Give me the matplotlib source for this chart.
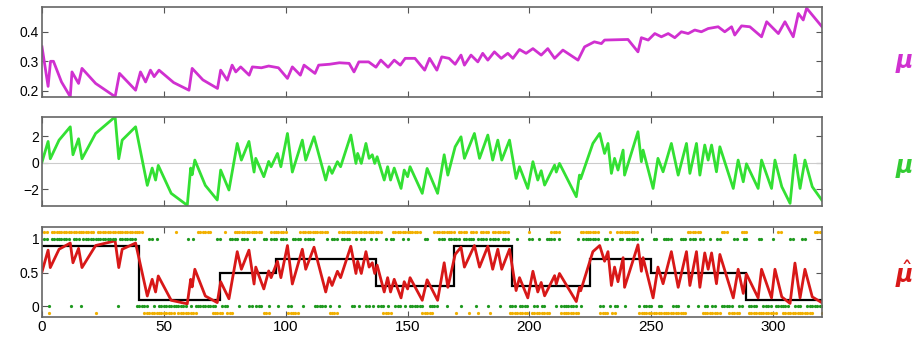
import numpy as np
import matplotlib
matplotlib.use('Agg')
import matplotlib.pyplot as plt

plt.rcParams['font.family'] = ['Liberation Sans', 'DejaVu Sans']

n_trials = 320

# third-level belief (vertices of the trajectory)
mu3_t = [0, 2.5, 3.5, 4.7, 8, 11.6, 12.3, 15, 16.4, 22, 30, 31.8, 38.4, 40.4, 42.5, 44.5,
         46, 48, 54, 60.3, 61.6, 66, 72, 73.3, 76, 78, 79.5, 81.5, 85, 86.3, 90, 93, 97,
         100.7, 102.7, 106, 107.5, 112, 113.5, 118, 122, 126, 128, 130, 134, 137, 139, 142,
         144.5, 147, 149, 153, 157, 159, 162, 164, 167, 169.5, 171.9, 173.3, 176, 178.8,
         180.8, 182.9, 185.6, 188.4, 191.1, 193.2, 195.9, 198.6, 201.4, 204.8, 207.5, 210.3,
         213.7, 219.9, 222.6, 226.6, 229.5, 230.8, 240.4, 244.5, 245.9, 248.7, 251.4, 254.1,
         256.9, 259.6, 262.3, 265.1, 267.8, 270.5, 273.3, 277.4, 280.1, 282.9, 284.2, 287,
         290.4, 295.2, 297.3, 302.1, 304.8, 308.2, 310.3, 312.3, 313.7, 320]
mu3_v = [0.349, 0.215, 0.30, 0.30, 0.23, 0.18, 0.264, 0.225, 0.276, 0.225, 0.18, 0.259,
         0.202, 0.264, 0.23, 0.27, 0.248, 0.27, 0.228, 0.202, 0.276, 0.237, 0.208, 0.27,
         0.236, 0.287, 0.264, 0.281, 0.253, 0.281, 0.278, 0.284, 0.278, 0.242, 0.281, 0.253,
         0.287, 0.259, 0.287, 0.29, 0.295, 0.293, 0.264, 0.298, 0.298, 0.28, 0.304, 0.28,
         0.304, 0.287, 0.31, 0.31, 0.27, 0.31, 0.27, 0.315, 0.31, 0.29, 0.321, 0.287, 0.321,
         0.298, 0.327, 0.304, 0.332, 0.31, 0.327, 0.31, 0.34, 0.327, 0.343, 0.321, 0.343,
         0.31, 0.338, 0.304, 0.349, 0.366, 0.36, 0.372, 0.374, 0.332, 0.38, 0.372, 0.394,
         0.383, 0.394, 0.38, 0.40, 0.394, 0.406, 0.40, 0.411, 0.417, 0.40, 0.417, 0.389,
         0.42, 0.417, 0.383, 0.434, 0.394, 0.434, 0.383, 0.462, 0.44, 0.48, 0.417]

# second-level belief (vertices of the trajectory)
mu2_t = [0, 2.5, 3.4, 7, 11.6, 12.7, 15, 16.4, 22, 30, 31.5, 32.9, 38.4, 43.2, 45.2, 46.6,
         47.7, 53, 59.6, 61, 61.6, 62.7, 67, 71.9, 73.3, 76.7, 80.1, 81.8, 84.9, 87, 87.7,
         91, 93, 94, 96.6, 98, 100.7, 102.7, 106.8, 108.2, 111.6, 116.4, 117.8, 119, 121.2,
         122.5, 126.7, 128.8, 129.5, 131, 132.9, 134.2, 135.5, 136.5, 137.5, 140.4, 141.8,
         143, 144.5, 147.3, 148.6, 150, 151, 156, 158, 162.3, 165, 166.5, 169.5, 171.9,
         173.3, 177.4, 179.5, 182.9, 184.9, 187, 188.6, 191.8, 194.5, 195.9, 199.3, 201.4,
         203.4, 204.8, 206.2, 210.3, 211, 212.3, 219.2, 220.5, 221, 226, 228.8, 230.8,
         232.2, 233.6, 234.9, 236.3, 238.4, 239, 244.5, 245.9, 246.6, 250.7, 252.7, 254.8,
         258.2, 261, 264.4, 265.8, 268.5, 269.9, 271.9, 273.3, 274.7, 276.7, 278.1, 283.6,
         285.6, 287.7, 289, 293.8, 295.2, 299.3, 300.7, 303.5, 306.9, 308.9, 311, 313, 316,
         319.9]
mu2_v = [0.05, 1.6, 0.3, 1.7, 2.7, 0.6, 1.8, 0.3, 2.2, 3.45, 0.3, 1.7, 2.7, -1.7, -0.4,
         -1.3, -0.2, -2.3, -3.2, -0.4, -0.9, 0.2, -1.7, -2.8, -0.55, -2.05, 1.45, 0.2, 1.6,
         -0.7, 0.33, -1.05, 0.1, -0.3, 0.7, -0.3, 2.2, -0.7, 1.7, 0.2, 1.95, -1.3, -0.3,
         -0.8, 0.08, -0.3, 2.08, -0.05, 0.7, -0.05, 1.45, 0.33, 0.6, -0.05, 0.45, -1.3,
         -0.3, -1.3, -0.4, -1.93, -0.55, -1.05, -0.3, -2.3, -0.43, -2.3, 0.6, -0.93, 1.2,
         1.95, 0.33, 2.2, 0.33, 2.08, 0.2, 1.7, 0.2, 1.7, -1.18, -0.3, -1.93, 0.08, -1.3,
         -0.6, -1.68, -0.18, -0.7, -0.05, -2.55, -0.93, -1.2, 1.45, 2.2, 0.7, 1.45, -0.8,
         0.33, -0.55, 0.95, -0.93, 2.33, 0.08, 0.95, -1.93, 0.33, -0.68, 1.45, -0.93, 1.45,
         -0.8, 1.45, -0.93, 1.33, 0.2, 1.33, -0.68, 1.2, -1.93, 0.2, -1.43, -0.08, -1.93,
         0.2, -1.93, 0.2, -1.8, -3.05, 0.58, -1.93, 0.2, -1.8, -2.8]

# true outcome probability per block
block_edges = [0, 40, 73, 96, 137, 169, 193, 225, 250, 289, 320]
block_prob = [0.9, 0.1, 0.5, 0.7, 0.3, 0.9, 0.3, 0.7, 0.5, 0.1]

# trials (inclusive ranges) where input u = 1
u_ones = [(1, 2), (4, 11), (13, 15), (17, 30), (32, 38), (44, 45), (47, 47), (60, 60),
          (62, 62), (72, 73), (77, 80), (82, 84), (87, 87), (91, 92), (94, 96), (98, 100),
          (103, 106), (108, 111), (117, 117), (119, 121), (123, 126), (129, 129), (131, 132),
          (135, 135), (137, 137), (141, 141), (143, 144), (148, 148), (150, 150), (157, 158),
          (163, 165), (167, 171), (173, 177), (179, 182), (184, 187), (189, 191), (195, 195),
          (200, 201), (204, 204), (207, 210), (212, 212), (220, 220), (222, 228), (231, 232),
          (234, 234), (237, 238), (240, 244), (246, 246), (251, 252), (255, 258), (262, 264),
          (266, 268), (270, 271), (274, 274), (277, 278), (284, 285), (288, 289), (294, 295),
          (300, 300), (307, 308), (312, 313)]

# trials (inclusive ranges) where response y = 1
y_ones = [(1, 2), (4, 21), (23, 41), (55, 55), (64, 69), (75, 75), (79, 90), (94, 100),
          (106, 117), (122, 139), (144, 155), (161, 169), (171, 174), (176, 178), (180, 183),
          (185, 191), (200, 200), (209, 212), (221, 228), (233, 233), (236, 244), (265, 270),
          (279, 281), (287, 289), (302, 303), (317, 319)]


def expand(ranges, n):
    out = np.zeros(n, dtype=int)
    for a, b in ranges:
        out[a - 1:b] = 1
    return out


trials = np.arange(1, n_trials + 1)
u = expand(u_ones, n_trials)
y = expand(y_ones, n_trials)
# predicted outcome probability is the logistic of the second-level belief
mu1_hat = 1 / (1 + np.exp(-np.array(mu2_v)))

fig = plt.figure(figsize=(9.17, 3.41), dpi=100)
left, width = 0.0458, 0.8506
ax3 = fig.add_axes([left, 0.7164, width, 0.2622])
ax2 = fig.add_axes([left, 0.3959, width, 0.2619])
ax1 = fig.add_axes([left, 0.0695, width, 0.2640])

mag = '#d030d0'
grn = '#33e033'
red = '#d81818'

ax3.plot(mu3_t, mu3_v, color=mag, lw=2.0)
ax3.set_ylim(0.18, 0.483)
ax3.set_yticks([0.2, 0.3, 0.4])
ax3.set_yticklabels(['0.2', '0.3', '0.4'])

ax2.axhline(0, color='#cccccc', lw=0.8)
ax2.plot(mu2_t, mu2_v, color=grn, lw=2.0)
ax2.set_ylim(-3.25, 3.46)
ax2.set_yticks([-2, 0, 2])

ax1.plot(mu2_t, mu1_hat, color=red, lw=2.0)
ax1.stairs(block_prob, block_edges, color='black', lw=1.6, baseline=None)
ax1.plot(trials, u, '.', color='#1f9a1f', ms=2.6)
ax1.plot(trials, np.where(y == 1, 1.1, -0.1), '.', color='#f2b000', ms=2.6)
ax1.set_ylim(-0.16, 1.17)
ax1.set_yticks([0, 0.5, 1])
ax1.set_yticklabels(['0', '0.5', '1'])

for ax in (ax3, ax2, ax1):
    ax.set_xlim(0, 320)
    ax.set_xticks(np.arange(0, 301, 50))
    ax.tick_params(direction='in', length=4, top=True, right=True, color='#555555',
                   labelsize=10, pad=2)
    for s in ax.spines.values():
        s.set_color('#666666')
        s.set_linewidth(1.2)
for ax in (ax3, ax2):
    ax.set_xticklabels([])
ax1.tick_params(axis='x', labelsize=11)

# row labels on the right
fig.text(0.976, 0.815, r'$\boldsymbol{\mu}$', color=mag, fontsize=17, va='center', ha='left')
fig.text(0.976, 0.505, r'$\boldsymbol{\mu}$', color='#33cc33', fontsize=17, va='center', ha='left')
fig.text(0.976, 0.195, r'$\hat{\boldsymbol{\mu}}$', color=red, fontsize=17, va='center', ha='left')

fig.savefig('out.png', dpi=100)
